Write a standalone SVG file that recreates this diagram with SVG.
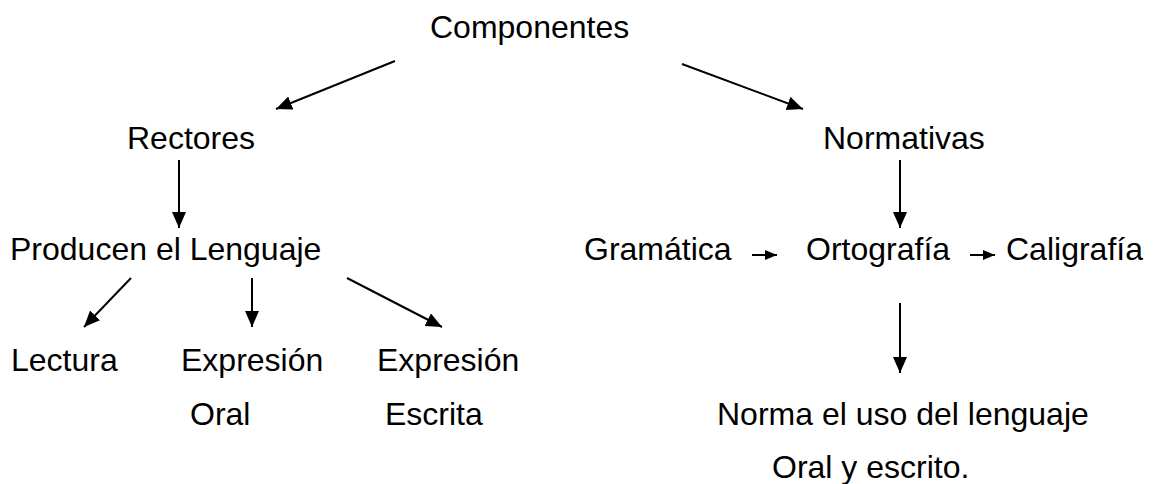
<svg xmlns="http://www.w3.org/2000/svg" width="1154" height="484" viewBox="0 0 1154 484">
<style>
text{font-family:"Liberation Sans",Arial,sans-serif;font-size:32px;fill:#000}
.c{stroke:#000;stroke-width:2;fill:none}
</style>
<defs>
<marker id="ah" markerUnits="userSpaceOnUse" markerWidth="20" markerHeight="20" refX="16" refY="7" orient="auto"><path d="M0,0 L16,7 L0,14 Z" fill="#000"/></marker>
<marker id="as" markerUnits="userSpaceOnUse" markerWidth="14" markerHeight="14" refX="12" refY="5" orient="auto"><path d="M0,0 L12,5 L0,10 Z" fill="#000"/></marker>
</defs>
<rect width="1154" height="484" fill="#fff"/>
<g id="connectors">
<line class="c" x1="395" y1="61" x2="276" y2="109" marker-end="url(#ah)"/>
<line class="c" x1="682" y1="64" x2="803" y2="109" marker-end="url(#ah)"/>
<line class="c" x1="179" y1="160" x2="179" y2="228" marker-end="url(#ah)"/>
<line class="c" x1="900" y1="160" x2="900" y2="228" marker-end="url(#ah)"/>
<line class="c" x1="752" y1="255" x2="777" y2="255" marker-end="url(#as)"/>
<line class="c" x1="970" y1="255" x2="995" y2="255" marker-end="url(#as)"/>
<line class="c" x1="900" y1="303" x2="900" y2="373" marker-end="url(#ah)"/>
<line class="c" x1="131" y1="278" x2="84" y2="327" marker-end="url(#ah)"/>
<line class="c" x1="252" y1="278" x2="252" y2="327" marker-end="url(#ah)"/>
<line class="c" x1="347" y1="278" x2="442" y2="327" marker-end="url(#ah)"/>
</g>
<g id="n-componentes"><text x="430" y="38">Componentes</text></g>
<g id="n-rectores"><text x="127" y="149">Rectores</text></g>
<g id="n-normativas"><text x="823" y="149">Normativas</text></g>
<g id="n-producen"><text x="10" y="260">Producen el Lenguaje</text></g>
<g id="n-gramatica"><text x="584" y="260">Gramática</text></g>
<g id="n-ortografia"><text x="806" y="260">Ortografía</text></g>
<g id="n-caligrafia"><text x="1006" y="260">Caligrafía</text></g>
<g id="n-lectura"><text x="11" y="371">Lectura</text></g>
<g id="n-exp-oral"><text x="181" y="371">Expresión</text><text x="190" y="425">Oral</text></g>
<g id="n-exp-escrita"><text x="377" y="371">Expresión</text><text x="385" y="425">Escrita</text></g>
<g id="n-norma"><text x="717" y="425">Norma el uso del lenguaje</text><text x="772" y="478">Oral y escrito.</text></g>
</svg>
